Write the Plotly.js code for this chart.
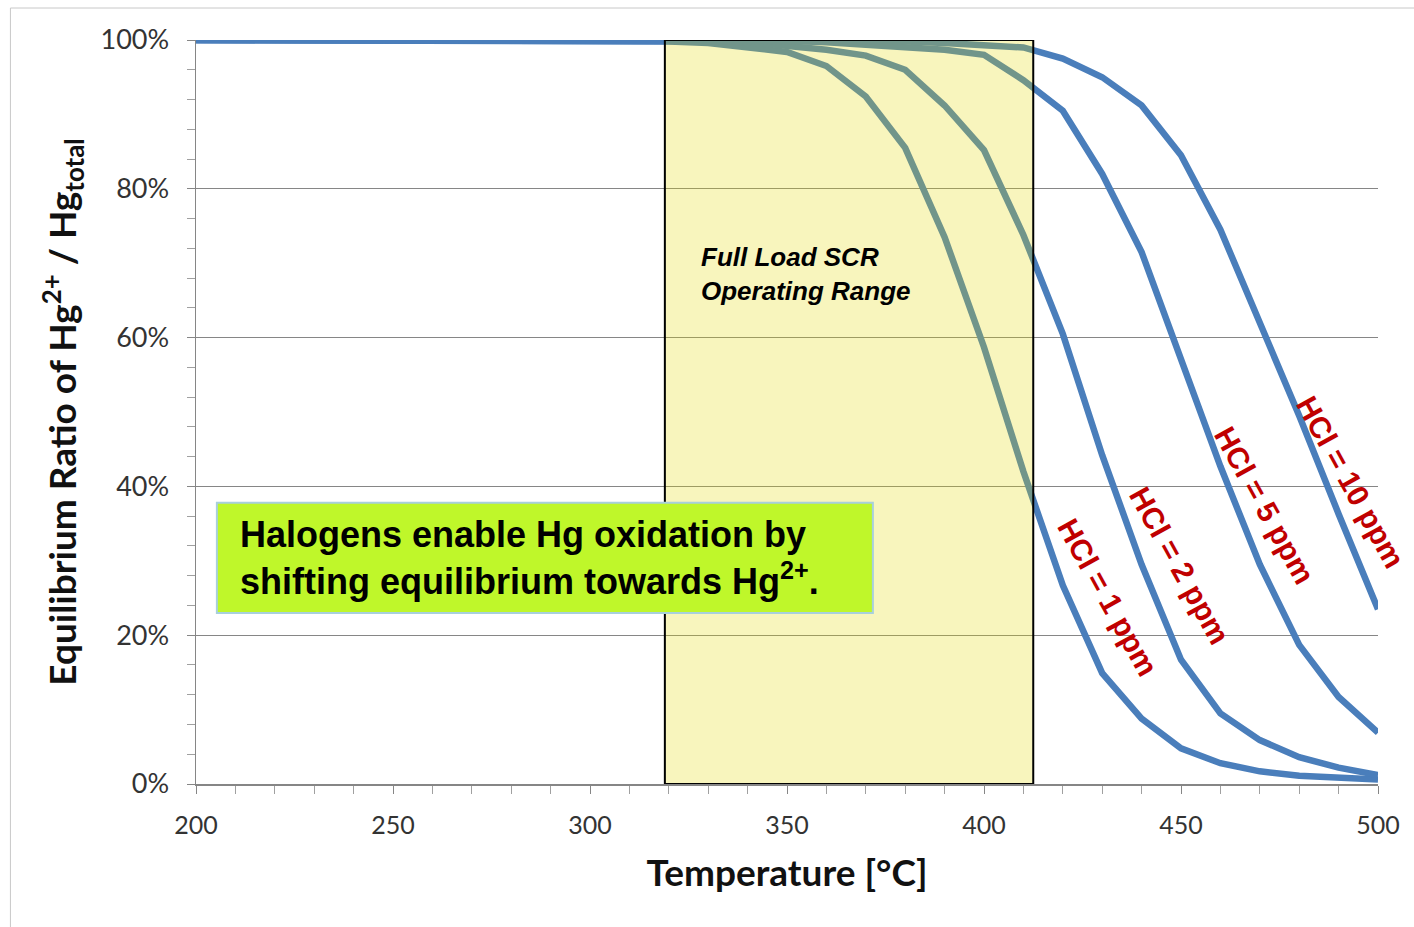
<!DOCTYPE html>
<html>
<head>
<meta charset="utf-8">
<script src="https://cdn.plot.ly/plotly-3.0.1.min.js"></script>
<style>html,body{margin:0;padding:0;background:#fff;}#chart{width:1414px;height:927px;}</style>
</head>
<body>
<div id="chart"></div>
<script>
// Temperature (°C)
const temperature = [200,210,220,230,240,250,260,270,280,290,300,310,320,330,340,350,360,370,380,390,400,410,420,430,440,450,460,470,480,490,500];
// Equilibrium ratio Hg2+/Hgtotal (%)
const hcl1ppm  = [100,100,100,100,100,100,100,100,100,100,100,99.9,99.8,99.6,99.1,98.4,96.5,92.4,85.5,73.5,58.7,42,26.7,14.9,8.8,4.8,2.8,1.7,1.1,0.8,0.6];
const hcl2ppm  = [100,100,100,100,100,100,100,100,100,100,100,100,100,99.9,99.7,99.3,98.7,97.9,96,91.2,85.2,73.8,60.5,44.2,29.5,16.7,9.5,5.9,3.6,2.2,1.2];
const hcl5ppm  = [100,100,100,100,100,100,100,100,100,100,100,100,100,100,100,99.9,99.7,99.4,99.1,98.7,98,94.6,90.5,82,71.5,57,42.7,29.5,18.7,11.7,6.9];
const hcl10ppm = [100,100,100,100,100,100,100,100,100,100,100,100,100,100,100,100,100,99.9,99.8,99.6,99.3,99,97.5,95,91.2,84.5,74.5,62,49.5,36.3,23.5];
const seriesLabels = ["HCl = 1 ppm","HCl = 2 ppm","HCl = 5 ppm","HCl = 10 ppm"];
const labelX = [431.5, 449.7, 471.3, 492.9];
const labelY = [25.1, 29.4, 37.5, 40.6];
const rangeLabel = "Full Load SCR<br>Operating Range";
const rangeStart = 319, rangeEnd = 412.5;
const boxText = "Halogens enable Hg oxidation by<br>shifting equilibrium towards Hg<sup>2+</sup>.";
const xTitle = "Temperature [°C]";
const yTitle = "Equilibrium Ratio of Hg<sup>2+</sup> / Hg<sub>total</sub>";

const lineColor = "#4a7ebb";
const allSeries = [hcl1ppm, hcl2ppm, hcl5ppm, hcl10ppm];
const traces = allSeries.map((ys, i) => ({
  x: temperature, y: ys, type: "scatter", mode: "lines",
  name: seriesLabels[i],
  line: {color: lineColor, width: 6.5, shape: "linear"},
  hoverinfo: "skip"
}));

const labelAnnotations = seriesLabels.map((t, i) => ({
  x: labelX[i], y: labelY[i], xref: "x", yref: "y",
  text: t, showarrow: false, textangle: 61,
  font: {family: "Liberation Sans, Arial, sans-serif", size: 30, color: "#c00000", weight: "bold"}
}));

const layout = {
  width: 1414, height: 927,
  margin: {l: 196, r: 36, t: 40, b: 143},
  paper_bgcolor: "#ffffff", plot_bgcolor: "#ffffff",
  showlegend: false,
  font: {family: "Lato, Open Sans, sans-serif", color: "#333333"},
  xaxis: {
    range: [200, 500], dtick: 50, tick0: 200,
    showgrid: false, zeroline: false,
    showline: true, linecolor: "#868686", linewidth: 1.5,
    ticks: "outside", ticklen: 8, tickcolor: "#868686",
    minor: {dtick: 10, ticks: "outside", ticklen: 8, tickcolor: "#a0a0a0", showgrid: false},
    tickfont: {size: 25, color: "#333333"},
    ticklabelstandoff: 10,
    title: {text: xTitle, font: {size: 37, color: "#111111", weight: "bold"}, standoff: 22}
  },
  yaxis: {
    range: [0, 100], dtick: 20, ticksuffix: "%",
    showgrid: true, gridcolor: "#868686", gridwidth: 1,
    zeroline: false,
    showline: true, linecolor: "#868686", linewidth: 1.5,
    ticks: "outside", ticklen: 8, tickcolor: "#868686",
    minor: {dtick: 4, ticks: "outside", ticklen: 8, tickcolor: "#a0a0a0", showgrid: false},
    tickfont: {size: 27, color: "#333333"},
    ticklabelstandoff: 12,
    title: {text: yTitle, font: {size: 37, color: "#111111", weight: "bold"}, standoff: 12}
  },
  shapes: [
    {type: "rect", xref: "x", yref: "y", x0: rangeStart, x1: rangeEnd, y0: 0, y1: 100,
     fillcolor: "rgba(228,218,0,0.26)", line: {color: "#000000", width: 2}, layer: "above"},
    {type: "rect", xref: "x", yref: "y", x0: 205.3, x1: 371.8, y0: 23, y1: 37.8,
     fillcolor: "#bff72a", line: {color: "#a8d0dc", width: 2}, layer: "above"},
    {type: "rect", xref: "paper", yref: "paper", x0: -0.157, x1: 1.2, y0: -0.3, y1: 1.043,
     fillcolor: "rgba(0,0,0,0)", line: {color: "#c8c8c8", width: 1}, layer: "below"}
  ],
  annotations: labelAnnotations.concat([
    {x: 327.6, y: 68.5, xref: "x", yref: "y", xanchor: "left", yanchor: "middle",
     text: rangeLabel, showarrow: false, align: "left",
     font: {family: "Liberation Sans, Arial, sans-serif", size: 26, color: "#000000", weight: "bold", style: "italic"}},
    {x: 210.7, y: 30.4, xref: "x", yref: "y", xanchor: "left", yanchor: "middle",
     text: boxText, showarrow: false, align: "left",
     font: {family: "Liberation Sans, Arial, sans-serif", size: 36, color: "#000000", weight: "bold"}}
  ])
};

Plotly.newPlot("chart", traces, layout, {displayModeBar: false, staticPlot: true});
</script>
</body>
</html>
